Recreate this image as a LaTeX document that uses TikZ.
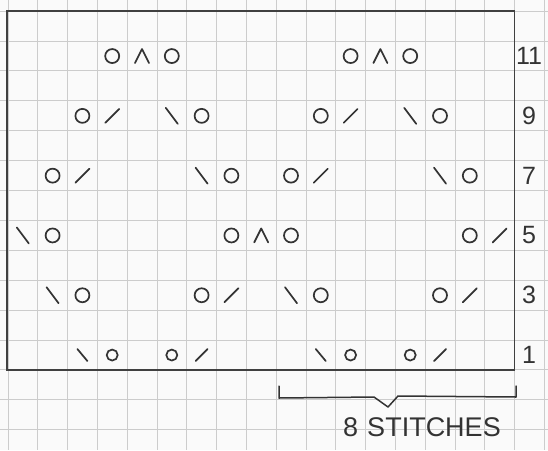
\documentclass[tikz,border=0pt]{standalone}
\usepackage{fontspec}
\setmainfont{Liberation Sans}
\newcommand\CX[1]{22.8+29.8*#1}
\newcommand\RY[1]{370-29.9*(#1-0.5)}
\begin{document}
\begin{tikzpicture}[x=1pt,y=-1pt,
  ink/.style={draw=black!80, line width=1.7pt, line cap=round},
  yo/.style={ink, circle, minimum size=14pt, inner sep=0pt},
  gridln/.style={draw=black!20, line width=0.7pt},
  frameln/.style={draw=black!75, line width=1.7pt},
  rownum/.style={font=\fontsize{25}{25}\selectfont, text=black!80}]
\fill[black!2] (0,0) rectangle (548,450);
\useasboundingbox (0,0) rectangle (548,450);
% graph paper
\foreach \i in {0,...,18} \draw[gridln] ({7.9+29.8*\i},0) -- ({7.9+29.8*\i},450);
\foreach \j in {0,...,14} \draw[gridln] (0,{11+29.9*\j}) -- (548,{11+29.9*\j});
% chart frame
\coordinate (tl) at (7,11);
\coordinate (br) at (514.5,370);
\draw[frameln] (tl) rectangle (br);
% yarn overs
\foreach \r/\c in {3/2,3/6,3/10,3/14, 5/1,5/7,5/9,5/15, 7/1,7/7,7/9,7/15, 9/2,9/6,9/10,9/14, 11/3,11/5,11/11,11/13}
  \node[yo] (o-\r-\c) at ({\CX{\c}},{\RY{\r}}) {};
\foreach \c in {3,5,11,13}
  \node[yo, minimum size=11pt] (o-1-\c) at ({\CX{\c}},{\RY{1}}) {};
% k2tog  /
\foreach \r/\c in {3/7,3/15,5/16,7/2,7/10,9/3,9/11} {
  \coordinate (k-\r-\c) at ({\CX{\c}},{\RY{\r}});
  \draw[ink] (k-\r-\c) ++(-7,7) -- ++(14,-14);
}
\foreach \c in {6,14} {
  \coordinate (k-1-\c) at ({\CX{\c}},{\RY{1}});
  \draw[ink] (k-1-\c) ++(-6,6) -- ++(12,-12);
}
% ssk  \
\foreach \r/\c in {3/1,3/9,5/0,7/6,7/14,9/5,9/13} {
  \coordinate (s-\r-\c) at ({\CX{\c}},{\RY{\r}});
  \draw[ink] (s-\r-\c) ++(-6,-8) -- ++(12,16);
}
\foreach \c in {2,10} {
  \coordinate (s-1-\c) at ({\CX{\c}},{\RY{1}});
  \draw[ink] (s-1-\c) ++(-5,-6) -- ++(10,12);
}
% sk2p  ^
\foreach \r/\c in {5/8,11/4,11/12} {
  \coordinate (d-\r-\c) at ({\CX{\c}},{\RY{\r}});
  \draw[ink, line join=round] (d-\r-\c) ++(-7,7) -- ++(7,-14) -- ++(7,14);
}
% row numbers
\foreach \r/\t in {11/11,9/9,7/7,5/5,3/3,1/1}
  \node[rownum] (n-\r) at (529,{\RY{\r}}) {\t};
% bracket
\coordinate (bl) at (279,386);
\coordinate (bla) at (279,398);
\coordinate (vl) at (374,397);
\coordinate (vt) at (388,407);
\coordinate (vr) at (398,396);
\coordinate (bra) at (516,397);
\coordinate (brt) at (516,386);
\draw[ink, line width=1.5pt, line join=round] (bl) -- (bla) -- (vl) -- (vt) -- (vr) -- (bra) -- (brt);
\node[text=black!80, font=\fontsize{27}{27}\selectfont] (lbl) at (422,427) {8\,\,STITCHES};
\end{tikzpicture}
\end{document}
